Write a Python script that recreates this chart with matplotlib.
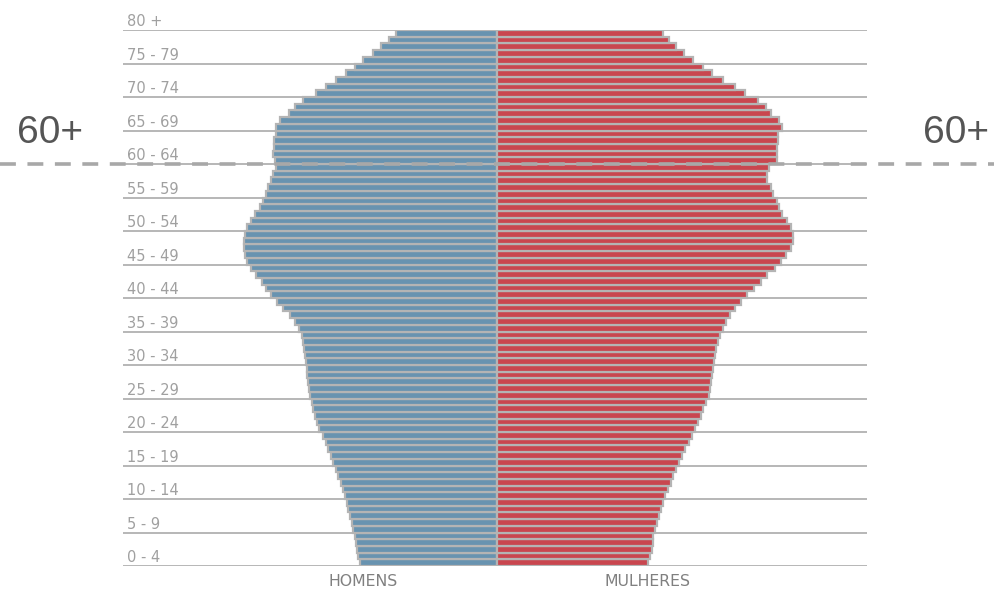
import matplotlib
matplotlib.use("Agg")
import matplotlib.pyplot as plt
from matplotlib.transforms import blended_transform_factory
import numpy as np

# Single-year ages 0..79 (80+ shown without a bar)
ages = list(range(80))
homens = [137, 139, 140, 141, 142, 144, 145, 147, 149, 150,
          152, 154, 156, 159, 161, 164, 166, 169, 171, 174,
          178, 180, 182, 184, 185, 187, 188, 189, 190, 190,
          191, 192, 193, 194, 195, 198, 202, 207, 214, 220,
          226, 231, 235, 241, 246, 250, 252, 253, 253, 252,
          250, 246, 242, 237, 234, 231, 229, 226, 224, 221,
          222, 224, 223, 223, 221, 221, 217, 208, 202, 194,
          181, 171, 161, 151, 142, 134, 124, 116, 108, 101]
mulheres = [151, 153, 155, 156, 156, 158, 160, 162, 164, 166,
            168, 171, 174, 176, 179, 182, 185, 188, 192, 195,
            198, 201, 204, 206, 209, 212, 213, 214, 215, 216,
            217, 218, 219, 221, 223, 226, 229, 233, 238, 244,
            250, 257, 264, 270, 278, 284, 289, 294, 296, 296,
            294, 290, 285, 282, 280, 276, 274, 270, 270, 272,
            280, 280, 280, 281, 281, 285, 282, 274, 269, 261,
            248, 238, 226, 215, 206, 196, 187, 179, 172, 166]
group_labels = ["0 - 4", "5 - 9", "10 - 14", "15 - 19", "20 - 24", "25 - 29",
                "30 - 34", "35 - 39", "40 - 44", "45 - 49", "50 - 54", "55 - 59",
                "60 - 64", "65 - 69", "70 - 74", "75 - 79", "80 +"]
group_starts = list(range(0, 81, 5))
sex_labels = ["HOMENS", "MULHERES"]
marker_label = "60+"
marker_age = 60

W, H = 994, 589
fig = plt.figure(figsize=(W / 100, H / 100), dpi=100)
fig.patch.set_facecolor("white")
ax = fig.add_axes([123 / W, 23 / H, 744 / W, 536 / H])
ax.set_xlim(-374, 370)
ax.set_ylim(0, 80)
ax.axis("off")

# group separator lines
ax.hlines(group_starts, -374, 370, colors="#aaaaaa", linewidth=1.2, zorder=0)

y = np.array(ages) + 0.5
ax.barh(y, -np.array(homens), left=0, height=1.0, color="#6893b0",
        edgecolor="#b4b4b4", linewidth=1.6, zorder=2)
ax.barh(y, np.array(mulheres), left=0, height=1.0, color="#c9464f",
        edgecolor="#b4b4b4", linewidth=1.6, zorder=2)

# age group labels
tr = blended_transform_factory(ax.transAxes, ax.transData)
for g, lab in zip(group_starts, group_labels):
    ax.text(0.005, g + 0.55, lab, transform=tr, ha="left", va="baseline",
            fontsize=10.5, color="#a0a0a0", family="DejaVu Sans", clip_on=False)

# sex labels
ax.text(-134, -2.3, sex_labels[0], ha="center", va="center", fontsize=11.3,
        color="#808080", family="DejaVu Sans", clip_on=False)
ax.text(151, -2.3, sex_labels[1], ha="center", va="center", fontsize=11.3,
        color="#808080", family="DejaVu Sans", clip_on=False)

# dashed 60+ marker across the full figure
trf = blended_transform_factory(fig.transFigure, ax.transData)
ln, = ax.plot([0, 1], [marker_age, marker_age], transform=trf, color="#a8a8a8",
              linewidth=2.6, clip_on=False, zorder=5, solid_capstyle="butt")
ln.set_dashes((4.4, 3.2))
ln.set_dash_capstyle("butt")

fig.text(50 / W, (H - 143) / H, marker_label, ha="center", va="baseline",
         fontsize=28, color="#555555", family="Liberation Sans")
fig.text(956 / W, (H - 143) / H, marker_label, ha="center", va="baseline",
         fontsize=28, color="#555555", family="Liberation Sans")

fig.savefig("out.png", dpi=100, facecolor="white")
